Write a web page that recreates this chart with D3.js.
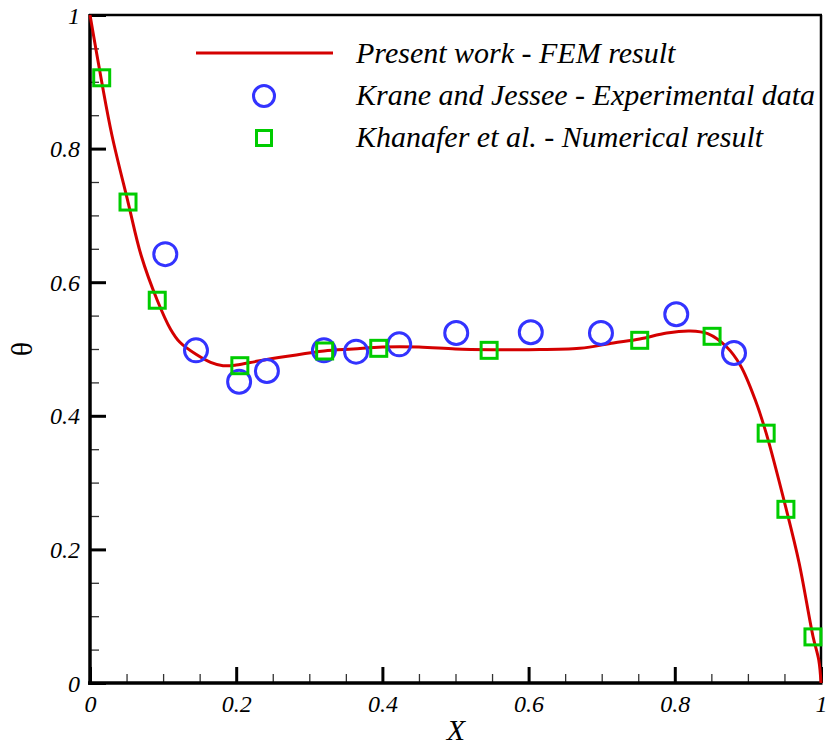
<!DOCTYPE html>
<html><head><meta charset="utf-8">
<script src="https://cdn.jsdelivr.net/npm/d3@7"></script>
<style>body{margin:0;background:#fff}svg{display:block}</style>
</head><body>
<svg id="c" width="830" height="749"></svg>
<script>
const femX = [0, 0.016, 0.03, 0.052, 0.07, 0.092, 0.11, 0.123, 0.145, 0.165, 0.182, 0.2, 0.23, 0.27, 0.32, 0.36, 0.4, 0.45, 0.5, 0.55, 0.6, 0.67, 0.716, 0.752, 0.789, 0.821, 0.845, 0.871, 0.89, 0.91, 0.925, 0.952, 0.97, 0.989, 0.997, 1.0];
const femY = [1.0, 0.9, 0.82, 0.72, 0.64, 0.573, 0.53, 0.51, 0.492, 0.48, 0.475, 0.476, 0.482, 0.489, 0.497, 0.5, 0.503, 0.503, 0.5, 0.499, 0.499, 0.501, 0.509, 0.515, 0.524, 0.527, 0.523, 0.503, 0.475, 0.424, 0.374, 0.262, 0.18, 0.07, 0.034, 0.0];
const expX = [0.103, 0.145, 0.204, 0.242, 0.320, 0.364, 0.423, 0.501, 0.603, 0.699, 0.802, 0.881];
const expY = [0.642, 0.498, 0.451, 0.467, 0.498, 0.496, 0.507, 0.524, 0.525, 0.524, 0.552, 0.494];
const numX = [0.016, 0.052, 0.092, 0.205, 0.321, 0.395, 0.546, 0.752, 0.851, 0.925, 0.952, 0.989];
const numY = [0.906, 0.720, 0.573, 0.475, 0.497, 0.501, 0.498, 0.513, 0.519, 0.374, 0.260, 0.069];
const majorTicks = [0, 0.2, 0.4, 0.6, 0.8, 1];
const tickLabels = ["0", "0.2", "0.4", "0.6", "0.8", "1"];
const legendLabels = ["Present work - FEM result", "Krane and Jessee - Experimental data", "Khanafer et al. - Numerical result"];

const L = 90, R = 821, T = 15, B = 683;
const x = d3.scaleLinear().domain([0, 1]).range([L, R]);
const y = d3.scaleLinear().domain([0, 1]).range([B, T]);
const svg = d3.select("#c");
const font = "'Liberation Serif','Times New Roman',serif";
const red = "#d40000", blue = "#3333ff", green = "#00cc00";

const minor = d3.range(0, 1.0001, 0.05).filter(v => Math.abs(Math.round(v * 5) - v * 5) > 1e-6);

// minor ticks
svg.append("g").attr("transform", `translate(0,${B})`)
  .call(d3.axisBottom(x).tickValues(minor).tickSize(-9).tickFormat(""))
  .call(g => { g.select(".domain").remove(); g.selectAll("line").attr("stroke", "#333").attr("stroke-width", 1.3); });
svg.append("g").attr("transform", `translate(${L},0)`)
  .call(d3.axisLeft(y).tickValues(minor).tickSize(-9).tickFormat(""))
  .call(g => { g.select(".domain").remove(); g.selectAll("line").attr("stroke", "#333").attr("stroke-width", 1.3); });

// major ticks + labels
svg.append("g").attr("transform", `translate(0,${B})`)
  .call(d3.axisBottom(x).tickValues(majorTicks).tickSize(-16).tickPadding(0).tickFormat((d, i) => tickLabels[i]))
  .call(g => {
    g.select(".domain").remove();
    g.selectAll("line").attr("stroke", "#000").attr("stroke-width", 3);
    g.selectAll("text").attr("y", 29).attr("dy", null).attr("fill", "#000")
      .style("font-family", font).style("font-style", "italic").style("font-size", "24px");
  });
svg.append("g").attr("transform", `translate(${L},0)`)
  .call(d3.axisLeft(y).tickValues(majorTicks).tickSize(-16).tickPadding(0).tickFormat((d, i) => tickLabels[i]))
  .call(g => {
    g.select(".domain").remove();
    g.selectAll("line").attr("stroke", "#000").attr("stroke-width", 3);
    g.selectAll("text").attr("x", -10).attr("dy", "0.34em").attr("fill", "#000")
      .style("font-family", font).style("font-style", "italic").style("font-size", "24px");
  });

// frame
svg.append("line").attr("x1", L - 1).attr("x2", R + 1).attr("y1", T).attr("y2", T).attr("stroke", "#000").attr("stroke-width", 2.5);
svg.append("line").attr("x1", R).attr("x2", R).attr("y1", T).attr("y2", B).attr("stroke", "#000").attr("stroke-width", 2.5);
svg.append("line").attr("x1", L).attr("x2", L).attr("y1", T - 1).attr("y2", B + 2).attr("stroke", "#000").attr("stroke-width", 3.5);
svg.append("line").attr("x1", L - 2).attr("x2", R + 1.5).attr("y1", B).attr("y2", B).attr("stroke", "#000").attr("stroke-width", 3.5);

// FEM line
const fem = femX.map((v, i) => [v, femY[i]]);
svg.append("path").datum(fem)
  .attr("d", d3.line().x(d => x(d[0])).y(d => y(d[1])).curve(d3.curveCatmullRom.alpha(0.5)))
  .attr("fill", "none").attr("stroke", red).attr("stroke-width", 3);

// experimental circles
svg.append("g").selectAll("circle").data(expX.map((v, i) => [v, expY[i]])).join("circle")
  .attr("cx", d => x(d[0])).attr("cy", d => y(d[1])).attr("r", 11.5)
  .attr("fill", "none").attr("stroke", blue).attr("stroke-width", 3);

// numerical squares
const s = 16;
svg.append("g").selectAll("rect").data(numX.map((v, i) => [v, numY[i]])).join("rect")
  .attr("x", d => x(d[0]) - s / 2).attr("y", d => y(d[1]) - s / 2).attr("width", s).attr("height", s)
  .attr("fill", "none").attr("stroke", green).attr("stroke-width", 3);

// legend
const lg = svg.append("g").style("font-family", font).style("font-style", "italic").style("font-size", "30px");
lg.append("line").attr("x1", 196).attr("x2", 333).attr("y1", 53).attr("y2", 53).attr("stroke", red).attr("stroke-width", 3);
lg.append("circle").attr("cx", 264).attr("cy", 96).attr("r", 10.5).attr("fill", "none").attr("stroke", blue).attr("stroke-width", 3);
lg.append("rect").attr("x", 264 - 7.5).attr("y", 138 - 7.5).attr("width", 15).attr("height", 15).attr("fill", "none").attr("stroke", green).attr("stroke-width", 3);
legendLabels.forEach((t, i) => {
  lg.append("text").attr("x", 356).attr("y", 53 + i * 42).attr("dy", "0.33em").attr("fill", "#000").text(t);
});

// axis titles
svg.append("text").attr("x", 456).attr("y", 740).attr("text-anchor", "middle")
  .style("font-family", font).style("font-style", "italic").style("font-size", "30px").text("X");
svg.append("text").attr("transform", "translate(21,349) rotate(-90)").attr("text-anchor", "middle").attr("dy", "0.35em")
  .style("font-family", font).style("font-size", "30px").text("θ");
</script>
</body></html>
